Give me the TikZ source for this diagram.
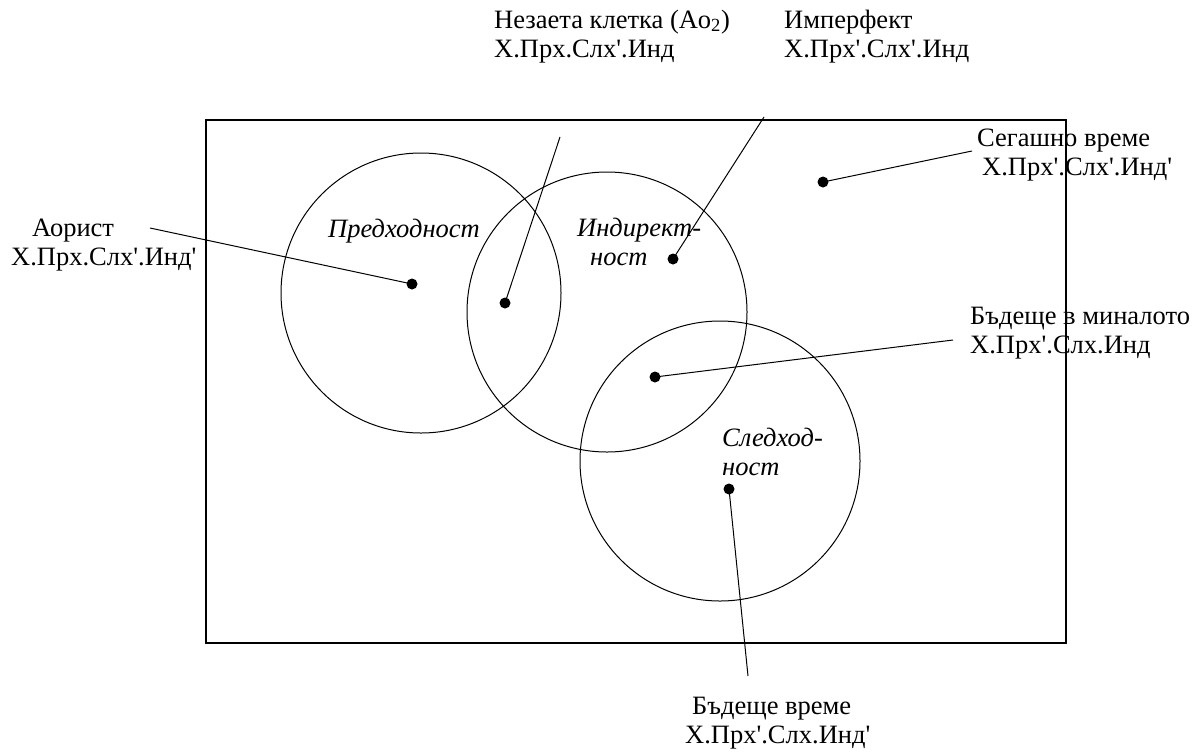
\documentclass[tikz,border=0pt]{standalone}
\usepackage{fontspec}
\setmainfont{Liberation Serif}
\newcommand\ap{\textquotesingle}
\begin{document}
\begin{tikzpicture}[x=1pt,y=-1pt,
  region/.style={draw,circle,line width=1pt,minimum size=280pt,inner sep=0pt},
  dot/.style={circle,fill=black,minimum size=11pt,inner sep=0pt},
  lbl/.style={inner sep=0pt,anchor=base west,align=left,font=\fontsize{26.5}{29}\selectfont},
  ilbl/.style={inner sep=0pt,anchor=base west,align=left,font=\fontsize{26.5}{29}\selectfont\itshape},
  lead/.style={line width=1pt}]
\useasboundingbox (0,0) rectangle (1198,753);
\draw[line width=1.2pt] (206,120) rectangle (1066,643);
% regions
\node[region] (c1) at (421,293) {};
\node[region] (c2) at (607,312) {};
\node[region] (c3) at (720,461) {};
\node[ilbl] (t1) at (328,237) {Предходност};
\node[ilbl] (t2) at (577,265) {Индирект-\\\hspace*{13pt}ност};
\node[ilbl] (t3) at (722,475) {Следход-\\ност};
% dots
\node[dot] (dA) at (412,284) {};
\node[dot] (dN) at (505,303) {};
\node[dot] (dI) at (673,259) {};
\node[dot] (dS) at (823,182) {};
\node[dot] (dBM) at (655,377) {};
\node[dot] (dB) at (729,489) {};
% free ends
\coordinate (eA) at (150,228);
\coordinate (eN) at (560,137);
\coordinate (eI) at (764,117);
\coordinate (eS) at (972,151);
\coordinate (eBM) at (953,340);
\coordinate (eB) at (748,676);
\draw[lead] (dA.center) -- (eA);
\draw[lead] (dN.center) -- (eN);
\draw[lead] (dI.center) -- (eI);
\draw[lead] (dS.center) -- (eS);
\draw[lead] (dBM.center) -- (eBM);
\draw[lead] (dB.center) -- (eB);
% labels
\node[lbl] (lN) at (494,57) {Незаета клетка (Ao\textsubscript{2})\\Х.Прх.Слх\ap.Инд};
\node[lbl] (lI) at (784,57) {Имперфект\\Х.Прх\ap.Слх\ap.Инд};
\node[lbl] (lS) at (977,175) {Сегашно време\\\hspace*{5pt}Х.Прх\ap.Слх\ap.Инд\ap};
\node[lbl] (lA) at (11,265) {\hspace*{21pt}Аорист\\Х.Прх.Слх\ap.Инд\ap};
\node[lbl] (lBM) at (970,353) {Бъдеще в миналото\\Х.Прх\ap.Слх.Инд};
\node[lbl] (lB) at (685,743) {\hspace*{7pt}Бъдеще време\\Х.Прх\ap.Слх.Инд\ap};
\end{tikzpicture}
\end{document}
